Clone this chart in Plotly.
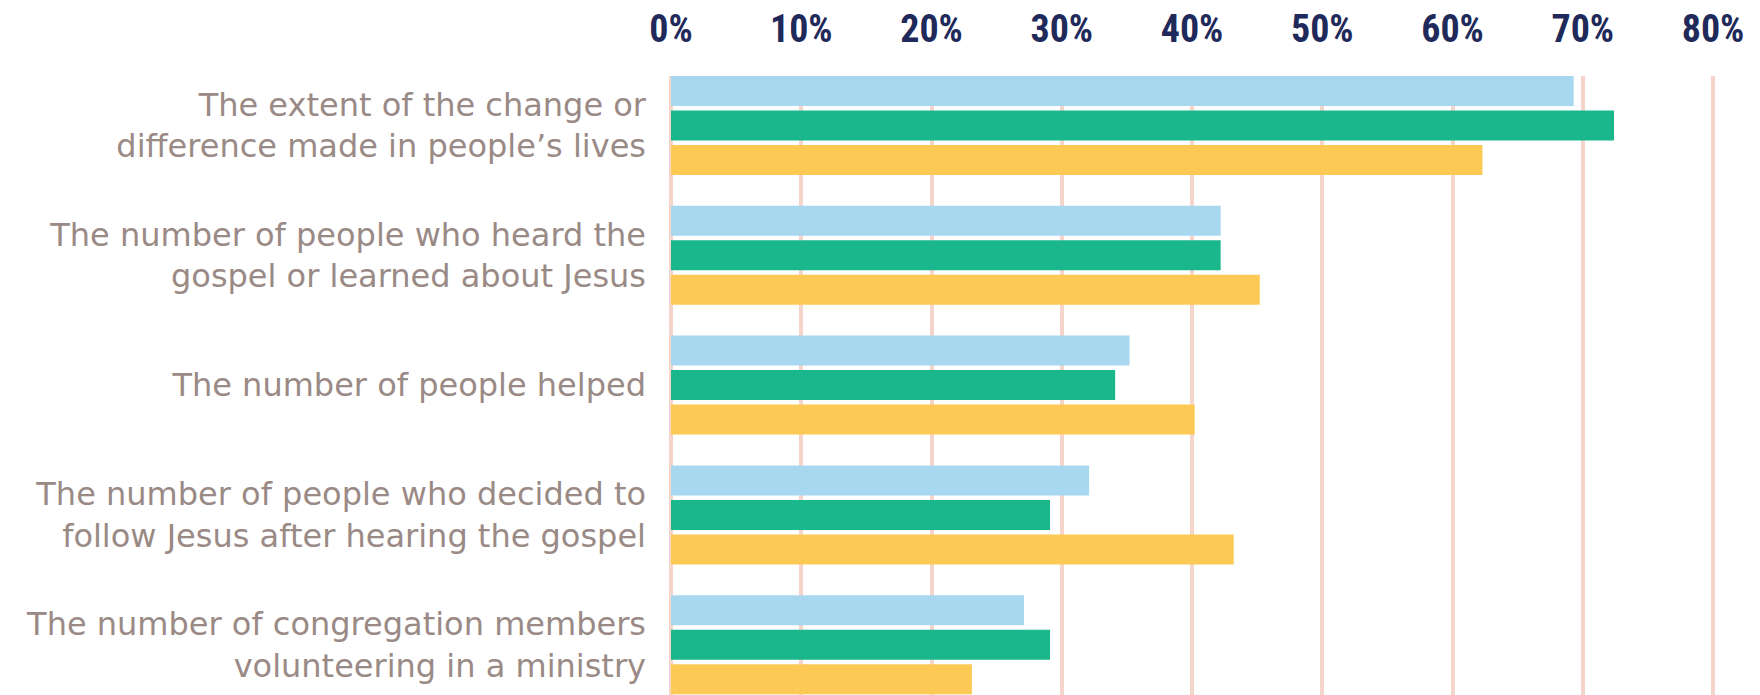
import plotly.graph_objects as go

categories = [
    "The extent of the change or<br>difference made in people’s lives",
    "The number of people who heard the<br>gospel or learned about Jesus",
    "The number of people helped",
    "The number of people who decided to<br>follow Jesus after hearing the gospel",
    "The number of congregation members<br>volunteering in a ministry",
]
series_blue = [69.3, 42.2, 35.2, 32.1, 27.1]
series_green = [72.4, 42.2, 34.1, 29.1, 29.1]
series_yellow = [62.3, 45.2, 40.2, 43.2, 23.1]
tick_vals = [0, 10, 20, 30, 40, 50, 60, 70, 80]
tick_text = ["0%", "10%", "20%", "30%", "40%", "50%", "60%", "70%", "80%"]

colors = ["#a7d8ef", "#1ab78c", "#fdc955"]
names = ["Series A", "Series B", "Series C"]

fig = go.Figure()
for name, vals, col in zip(names, [series_blue, series_green, series_yellow], colors):
    fig.add_trace(go.Bar(
        y=categories, x=vals, orientation="h", name=name,
        marker=dict(color=col, line=dict(width=0)),
    ))

# the page body adds an 8px margin, so the figure is sized to fit the window
fig.update_layout(
    width=1752, height=687,
    margin=dict(l=652, r=35, t=68, b=0, pad=0),
    paper_bgcolor="white", plot_bgcolor="white",
    barmode="group", bargap=0.203, bargroupgap=0.13,
    showlegend=False,
    xaxis=dict(
        side="top", range=[-0.844, 80.92], automargin=False,
        tickmode="array", tickvals=tick_vals, ticktext=tick_text,
        showgrid=True, gridcolor="#f5d5c9", gridwidth=4,
        zeroline=False, showline=False, ticks="",
        tickfont=dict(family="Roboto Condensed, Open Sans Condensed, sans-serif",
                      size=38, color="#1f2a5a", weight="bold"),
        ticklabelstandoff=25,
    ),
    yaxis=dict(
        type="category", range=[4.387, -0.381], automargin=False,
        showgrid=False, zeroline=False, showline=False, ticks="",
        tickfont=dict(family="DejaVu Sans, sans-serif", size=32, color="#9a8a86"),
        ticklabelstandoff=13,
    ),
)

fig.write_html("out.html")
